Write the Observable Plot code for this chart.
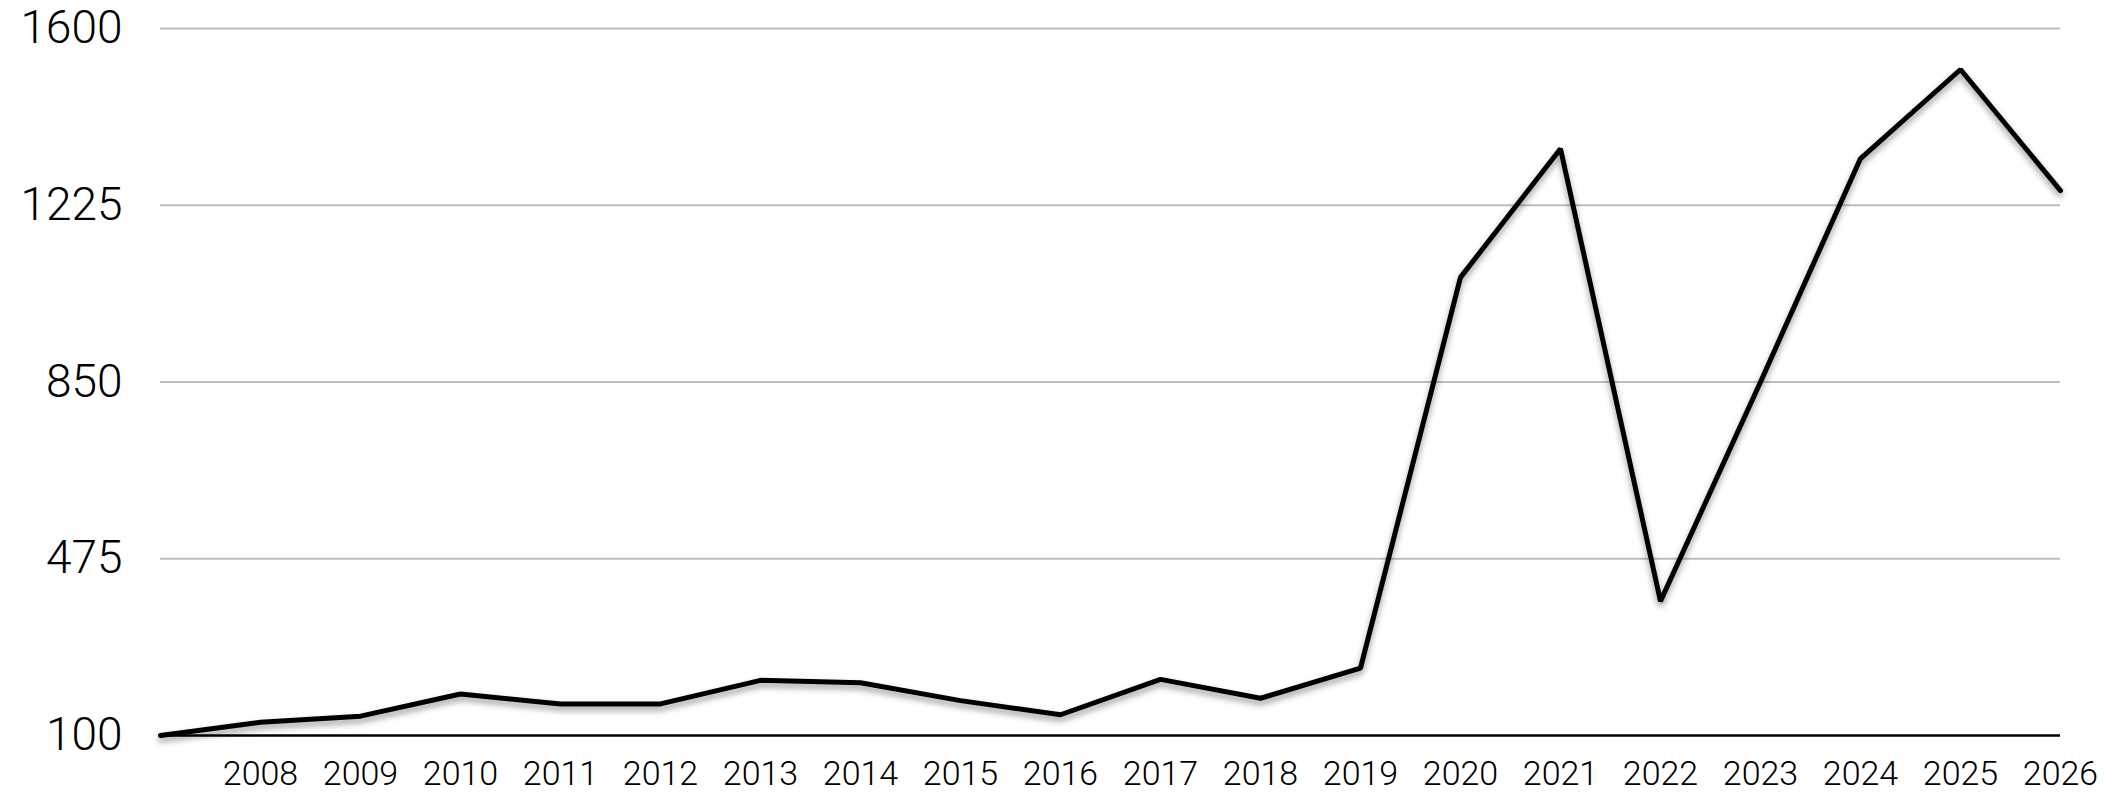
<!DOCTYPE html>
<html>
<head>
<meta charset="utf-8">
<script src="https://cdn.jsdelivr.net/npm/d3@7"></script>
<script src="https://cdn.jsdelivr.net/npm/@observablehq/plot@0.6"></script>
<style>
  html, body { margin: 0; padding: 0; background: #fff; }
  #chart svg { display: block; }
  #chart g[aria-label="line"] path {
    filter: drop-shadow(0px 4px 3px rgba(0,0,0,0.4));
  }
</style>
</head>
<body>
<div id="chart"></div>
<script>
const years = [2007, 2008, 2009, 2010, 2011, 2012, 2013, 2014, 2015, 2016,
               2017, 2018, 2019, 2020, 2021, 2022, 2023, 2024, 2025, 2026];
const values = [100, 128, 141, 188, 167, 167, 217, 212, 174, 144,
                 219, 179, 243, 1072, 1345, 385, 850, 1324, 1513, 1256];
const xTicks = [2008, 2009, 2010, 2011, 2012, 2013, 2014, 2015, 2016, 2017,
                2018, 2019, 2020, 2021, 2022, 2023, 2024, 2025, 2026];
const yTicks = [100, 475, 850, 1225, 1600];

const data = years.map((year, i) => ({year, value: values[i]}));

const font = "Roboto, 'Helvetica Neue', Helvetica, Arial, sans-serif";

const chart = Plot.plot({
  width: 2123,
  height: 792,
  marginLeft: 160,
  marginRight: 63,
  marginTop: 28,
  marginBottom: 57,
  style: {fontFamily: font, background: "#fff", color: "#000"},
  x: {domain: [2007, 2026]},
  y: {domain: [100, 1600]},
  marks: [
    Plot.gridY(yTicks.filter(d => d !== 100), {stroke: "#bdbdbd", strokeOpacity: 1, strokeWidth: 2}),
    Plot.ruleY([100], {stroke: "#000", strokeWidth: 2.5}),
    Plot.axisY({
      ticks: yTicks, tickSize: 0, tickPadding: 38, fontSize: 46,
      fontWeight: 300, label: null, tickFormat: d => String(d)
    }),
    Plot.axisX({
      ticks: xTicks, tickSize: 0, tickPadding: 25, fontSize: 34,
      fontWeight: 300, label: null, tickFormat: d => String(d)
    }),
    Plot.line(data, {x: "year", y: "value", stroke: "#000", strokeWidth: 5, strokeLinejoin: "miter"})
  ]
});

document.getElementById("chart").appendChild(chart);
</script>
</body>
</html>
